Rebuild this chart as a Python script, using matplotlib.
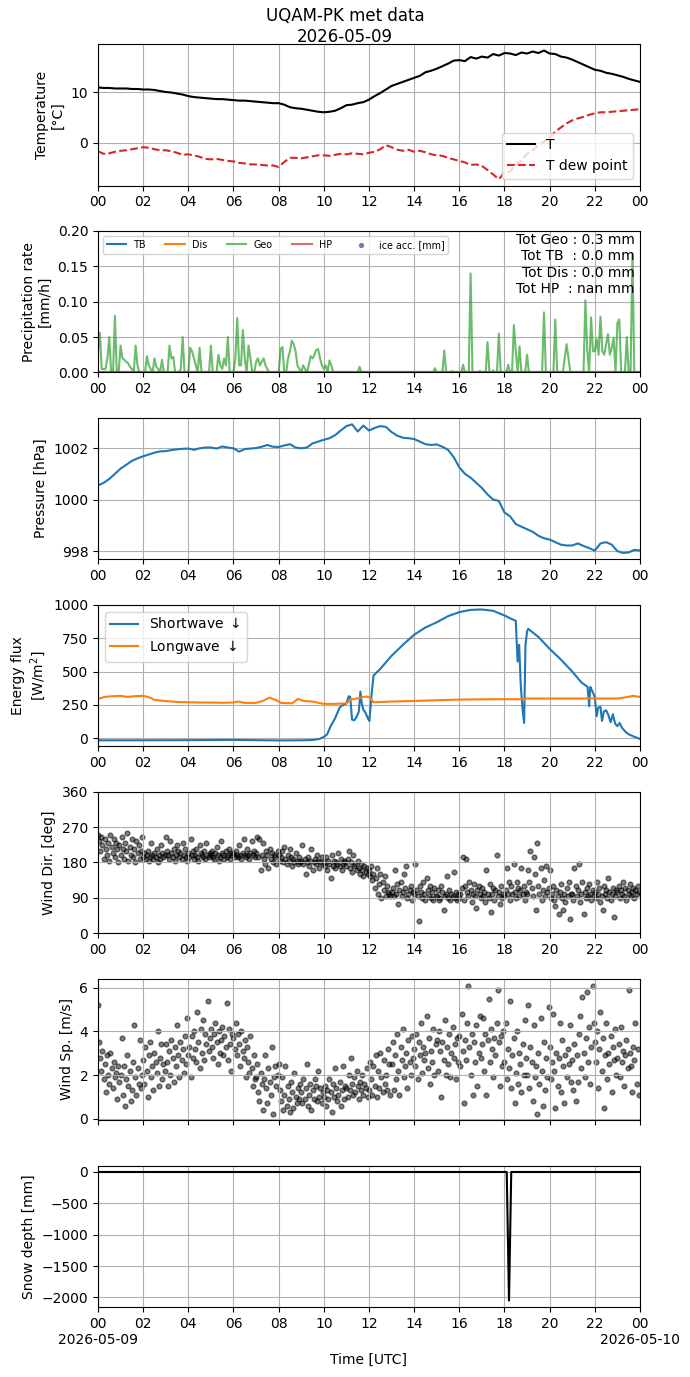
import matplotlib
matplotlib.use("Agg")
import matplotlib.pyplot as plt
from matplotlib.ticker import FixedLocator, FuncFormatter
import numpy as np

# ---- data, hours UTC on 2026-05-09 ----
# 15-min temperature / dew point
temp = [10.9, 10.8, 10.8, 10.7, 10.7, 10.7, 10.6, 10.6, 10.5, 10.5, 10.4, 10.2,
        10.0, 9.9, 9.7, 9.5, 9.2, 9.0, 8.9, 8.8, 8.7, 8.6, 8.6, 8.5,
        8.4, 8.3, 8.3, 8.2, 8.1, 8.0, 7.9, 7.8, 7.8, 7.5, 7.0, 6.8,
        6.7, 6.5, 6.3, 6.1, 6.0, 6.1, 6.3, 6.8, 7.4, 7.5, 7.8, 8.0,
        8.5, 9.2, 9.8, 10.5, 11.2, 11.6, 12.0, 12.4, 12.8, 13.2, 13.9, 14.2,
        14.6, 15.1, 15.6, 16.2, 16.3, 16.1, 16.9, 16.6, 17.0, 16.8, 17.5, 17.2,
        17.7, 17.6, 17.3, 17.8, 17.6, 18.0, 17.7, 18.2, 17.6, 17.5, 17.0, 16.8,
        16.4, 15.9, 15.4, 14.9, 14.4, 14.2, 13.8, 13.6, 13.3, 13.0, 12.6, 12.3, 12.0]
dew = [-1.7, -2.2, -2.1, -1.8, -1.6, -1.5, -1.3, -1.1, -0.9, -1.0, -1.3, -1.5,
       -1.5, -1.7, -2.0, -2.4, -2.3, -2.5, -2.8, -3.2, -3.3, -3.2, -3.4, -3.6,
       -3.7, -4.0, -4.1, -4.3, -4.3, -4.4, -4.5, -4.5, -4.8, -3.8, -3.0, -3.0,
       -3.1, -2.9, -2.7, -2.5, -2.5, -2.6, -2.4, -2.2, -2.3, -2.1, -2.2, -2.3,
       -2.0, -1.8, -1.3, -0.5, -0.9, -1.4, -1.6, -1.4, -1.8, -1.6, -1.9, -2.3,
       -2.5, -2.6, -3.0, -3.3, -3.6, -3.9, -4.4, -4.3, -4.6, -5.4, -6.3, -7.2,
       -5.9, -5.7, -4.3, -3.5, -2.2, -1.5, -0.5, 0.2, 1.0, 2.2, 3.0, 3.8,
       4.4, 4.8, 5.1, 5.5, 5.8, 6.0, 6.0, 6.1, 6.2, 6.3, 6.4, 6.5, 6.6]

# 5-min Geonor precipitation rate [mm/h], one row per hour
geo = [
    0.03, 0.056, 0.005, 0.005, 0.005, 0.02, 0.05, 0.0, 0.0, 0.08, 0.0, 0.0,
    0.038, 0.02, 0.018, 0.015, 0.013, 0.008, 0.005, 0.0, 0.038, 0.01, 0.0, 0.0,
    0.0, 0.0, 0.023, 0.01, 0.005, 0.0, 0.02, 0.008, 0.005, 0.0, 0.018, 0.0,
    0.0, 0.0, 0.038, 0.02, 0.022, 0.0, 0.0, 0.0, 0.005, 0.05, 0.0, 0.0,
    0.0, 0.035, 0.03, 0.02, 0.01, 0.0, 0.035, 0.0, 0.0, 0.0, 0.0, 0.0,
    0.038, 0.0, 0.0, 0.0, 0.025, 0.01, 0.005, 0.02, 0.01, 0.05, 0.0, 0.0,
    0.0, 0.02, 0.077, 0.01, 0.01, 0.06, 0.02, 0.0, 0.038, 0.02, 0.0, 0.0,
    0.015, 0.02, 0.01, 0.015, 0.02, 0.01, 0.005, 0.0, 0.0, 0.0, 0.0, 0.0,
    0.0, 0.033, 0.036, 0.0, 0.0, 0.02, 0.03, 0.045, 0.04, 0.03, 0.01, 0.005,
    0.0, 0.01, 0.005, 0.0, 0.01, 0.023, 0.02, 0.025, 0.032, 0.033, 0.02, 0.01,
    0.005, 0.01, 0.0, 0.017, 0.01, 0.0, 0.0, 0.0, 0.0, 0.0, 0.0, 0.0,
    0.0, 0.0, 0.0, 0.0, 0.0, 0.0, 0.0, 0.008, 0.0, 0.0, 0.0, 0.0,
    0.0, 0.0, 0.0, 0.0, 0.0, 0.0, 0.0, 0.0, 0.0, 0.0, 0.0, 0.0,
    0.0, 0.0, 0.0, 0.0, 0.0, 0.0, 0.0, 0.0, 0.0, 0.0, 0.0, 0.0,
    0.0, 0.0, 0.0, 0.0, 0.0, 0.0, 0.0, 0.0, 0.0, 0.0, 0.0, 0.006,
    0.0, 0.0, 0.0, 0.0, 0.031, 0.0, 0.0, 0.0, 0.002, 0.0, 0.0, 0.0,
    0.0, 0.0, 0.011, 0.0, 0.0, 0.0, 0.14, 0.0, 0.0, 0.0, 0.0, 0.002,
    0.0, 0.0, 0.0, 0.043, 0.0, 0.0, 0.003, 0.0, 0.0, 0.055, 0.0, 0.0,
    0.0, 0.0, 0.011, 0.0, 0.0, 0.067, 0.03, 0.0, 0.037, 0.0, 0.0, 0.0,
    0.025, 0.0, 0.0, 0.0, 0.0, 0.0, 0.0, 0.0, 0.0, 0.085, 0.0, 0.0,
    0.0, 0.0, 0.0, 0.075, 0.0, 0.0, 0.0, 0.0, 0.02, 0.04, 0.02, 0.0,
    0.0, 0.0, 0.0, 0.0, 0.0, 0.0, 0.0, 0.102, 0.03, 0.0, 0.078, 0.03,
    0.03, 0.047, 0.025, 0.079, 0.03, 0.025, 0.04, 0.054, 0.025, 0.035, 0.049, 0.0,
    0.07, 0.075, 0.0, 0.0, 0.0, 0.05, 0.0, 0.0, 0.168, 0.0, 0.0, 0.0,
    0.0]
ice_acc_t = []
ice_acc = []

# 15-min pressure [hPa]
pres = [1000.55, 1000.65, 1000.8, 1001.0, 1001.2, 1001.35, 1001.5, 1001.6,
        1001.68, 1001.75, 1001.82, 1001.87, 1001.88, 1001.92, 1001.95, 1001.97,
        1001.98, 1001.93, 1001.99, 1002.02, 1002.02, 1001.98, 1002.06, 1002.02,
        1001.99, 1001.86, 1001.96, 1001.98, 1002.0, 1002.05, 1002.12, 1002.05,
        1002.04, 1002.1, 1002.15, 1002.02, 1001.99, 1002.02, 1002.18, 1002.25,
        1002.32, 1002.38, 1002.5, 1002.68, 1002.85, 1002.92, 1002.64, 1002.87,
        1002.68, 1002.78, 1002.85, 1002.82, 1002.62, 1002.48, 1002.4, 1002.38,
        1002.35, 1002.25, 1002.15, 1002.12, 1002.14, 1002.05, 1001.93, 1001.65,
        1001.25, 1001.0, 1000.85, 1000.65, 1000.45, 1000.2, 1000.0, 999.95,
        999.5, 999.35, 999.05, 998.95, 998.85, 998.75, 998.6, 998.5,
        998.45, 998.35, 998.25, 998.22, 998.22, 998.3, 998.2, 998.12,
        998.02, 998.3, 998.35, 998.25, 998.0, 997.93, 997.95, 998.05, 998.03]

# radiation [W/m2]
sw_hours = [0, 2, 4, 6, 8, 9, 9.5, 9.8, 10.0, 10.15, 10.3, 10.5, 10.7, 10.85,
            11.0, 11.1, 11.17, 11.25, 11.35, 11.45, 11.55, 11.62, 11.68, 11.75,
            11.85, 11.95, 12.02, 12.1, 12.2, 12.5, 13.0, 13.5, 14.0, 14.5, 15.0,
            15.5, 16.0, 16.5, 17.0, 17.5, 18.0, 18.3, 18.5, 18.58, 18.65, 18.72,
            18.8, 18.87, 18.93, 19.0, 19.05, 19.5, 20.0, 20.5, 21.0, 21.4, 21.68,
            21.75, 21.8, 21.87, 22.0, 22.08, 22.15, 22.25, 22.32, 22.4, 22.5,
            22.6, 22.7, 22.8, 22.9, 23.0, 23.1, 23.2, 23.35, 23.5, 23.7, 23.85, 24.0]
shortwave = [-15, -15, -14, -12, -16, -15, -13, -5, 10, 30, 90, 150, 230, 250,
             260, 315, 310, 140, 135, 160, 200, 350, 260, 215,
             190, 150, 130, 300, 470, 520, 618, 700, 776, 830, 869,
             915, 945, 962, 965, 955, 920, 895, 880, 575, 700, 400,
             220, 115, 700, 800, 820, 760, 670, 590, 500, 420, 385,
             240, 385, 360, 310, 165, 230, 235, 130, 200, 210,
             175, 120, 180, 110, 90, 115, 80, 50, 30, 15, 5, -5]
lw_hours = [0, 0.3, 0.6, 1.0, 1.3, 1.6, 2.0, 2.3, 2.5, 2.8, 3.5, 4.0, 4.5, 5.0,
            5.5, 6.0, 6.2, 6.5, 7.0, 7.3, 7.6, 7.9, 8.1, 8.6, 8.85, 9.1, 9.5,
            10.0, 10.5, 11.0, 11.2, 11.5, 11.8, 12.0, 12.2, 13.0, 14.0, 15.0,
            16.0, 17.0, 18.0, 18.8, 19.0, 20.0, 21.0, 22.0, 23.0, 23.3, 23.7, 24.0]
longwave = [295, 310, 315, 318, 310, 315, 318, 305, 288, 282, 272, 270, 268, 268,
            266, 268, 276, 265, 265, 280, 305, 285, 265, 262, 295, 280, 275,
            258, 258, 262, 290, 300, 312, 310, 270, 275, 280, 285,
            290, 292, 293, 292, 298, 298, 298, 298, 298, 305, 318, 310]

# 3-min wind direction [deg], one row per hour
wdir = [
    250, 235, 210, 245, 225, 190, 240, 215, 200, 230, 185, 250, 220, 205, 240, 195, 230, 215, 180, 225,
    200, 245, 215, 190, 230, 210, 255, 185, 220, 200, 240, 195, 215, 180, 235, 205, 225, 190, 210, 245,
    195, 205, 190, 200, 210, 185, 195, 230, 200, 190, 205, 195, 215, 180, 200, 190, 225, 205, 195, 200,
    245, 210, 200, 190, 235, 205, 195, 215, 185, 200, 225, 210, 195, 205, 190, 230, 200, 215, 195, 185,
    205, 195, 240, 200, 210, 190, 200, 215, 195, 185, 225, 205, 200, 195, 210, 190, 230, 200, 195, 205,
    200, 210, 195, 190, 205, 220, 200, 185, 195, 235, 205, 200, 190, 210, 195, 200, 215, 190, 205, 200,
    205, 195, 210, 200, 195, 225, 200, 190, 205, 240, 200, 195, 215, 200, 190, 205, 235, 200, 210, 195,
    205, 245, 195, 240, 160, 200, 230, 190, 175, 210, 200, 165, 215, 190, 205, 180, 200, 195, 175, 210,
    200, 185, 195, 210, 180, 220, 190, 175, 200, 185, 215, 195, 170, 190, 180, 205, 185, 175, 195, 180,
    185, 225, 175, 190, 150, 180, 195, 170, 185, 215, 160, 180, 190, 175, 200, 185, 165, 180, 195, 175,
    180, 170, 195, 160, 185, 175, 140, 200, 170, 185, 165, 180, 175, 205, 170, 190, 160, 175, 185, 180,
    170, 190, 210, 165, 180, 155, 200, 170, 175, 160, 185, 165, 150, 175, 160, 145, 170, 155, 165, 150,
    160, 145, 170, 135, 150, 115, 140, 165, 100, 125, 150, 90, 130, 110, 145, 95, 120, 105, 100, 95,
    105, 115, 95, 160, 100, 125, 75, 110, 130, 95, 105, 150, 115, 170, 90, 100, 110, 120, 85, 105,
    100, 175, 110, 95, 30, 120, 105, 90, 130, 100, 85, 140, 110, 95, 120, 90, 105, 85, 115, 95,
    95, 110, 85, 90, 120, 105, 60, 95, 100, 145, 90, 110, 85, 100, 95, 155, 90, 105, 85, 100,
    90, 100, 115, 195, 85, 120, 190, 105, 95, 130, 110, 80, 100, 125, 95, 65, 110, 120, 100, 90,
    115, 95, 105, 80, 160, 100, 90, 125, 55, 100, 115, 85, 110, 200, 95, 105, 75, 120, 90, 100,
    95, 110, 165, 100, 130, 85, 120, 100, 175, 105, 90, 130, 115, 95, 110, 165, 100, 120, 85, 105,
    100, 160, 130, 210, 115, 95, 195, 150, 60, 230, 120, 100, 165, 85, 110, 135, 95, 170, 105, 115,
    160, 90, 100, 120, 85, 70, 110, 95, 50, 105, 125, 90, 60, 100, 80, 115, 95, 130, 35, 100,
    100, 85, 165, 120, 95, 110, 175, 80, 100, 130, 50, 105, 90, 115, 95, 125, 100, 85, 110, 95,
    105, 90, 130, 100, 115, 80, 95, 60, 120, 100, 110, 90, 140, 105, 85, 100, 115, 40, 95, 110,
    105, 120, 90, 110, 100, 130, 95, 115, 85, 110, 100, 125, 95, 105, 115, 90, 110, 100, 120, 105]

# 3-min wind speed [m/s], one row per hour
wspd = [
    5.2, 3.5, 2.8, 2.2, 3.1, 1.8, 2.5, 1.2, 2.9, 2.0, 1.6, 3.0, 2.3, 1.4, 2.6, 1.9, 2.1, 0.9, 2.4, 1.7,
    2.0, 3.7, 1.1, 2.4, 0.6, 1.8, 2.9, 1.5, 2.2, 0.8, 1.3, 2.6, 4.3, 1.9, 1.1, 2.3, 1.6, 3.6, 1.4, 2.0,
    2.7, 1.6, 3.3, 2.2, 1.0, 2.9, 3.5, 1.9, 2.4, 1.3, 3.0, 2.6, 2.1, 4.0, 1.5, 2.8, 3.4, 1.8, 2.5, 2.2,
    3.4, 2.6, 1.5, 3.1, 2.0, 3.6, 2.8, 1.7, 3.3, 2.4, 4.3, 2.9, 1.9, 3.5, 2.7, 3.2, 2.1, 3.8, 2.5, 4.6,
    2.9, 3.3, 1.9, 3.8, 2.8, 4.0, 3.2, 2.6, 4.9, 3.5, 2.3, 4.1, 3.0, 4.5, 2.7, 3.9, 3.4, 5.4, 3.1, 3.7,
    4.1, 3.3, 2.8, 3.9, 4.4, 3.5, 2.5, 4.0, 3.0, 3.6, 4.2, 2.9, 3.8, 3.3, 5.3, 2.7, 4.1, 3.4, 2.2, 3.9,
    3.7, 3.2, 4.4, 2.9, 3.9, 3.4, 2.4, 4.0, 3.1, 2.8, 3.6, 1.9, 3.3, 2.6, 2.1, 3.8, 2.3, 1.5, 2.9, 1.8,
    1.9, 2.5, 1.2, 0.8, 2.1, 1.6, 0.4, 1.8, 2.9, 1.4, 0.7, 2.3, 1.7, 1.1, 3.3, 0.2, 1.9, 2.4, 1.5, 2.0,
    2.5, 1.3, 0.8, 1.9, 0.4, 1.1, 2.4, 0.6, 1.5, 0.9, 0.3, 1.7, 1.2, 0.5, 2.1, 1.0, 0.7, 1.4, 0.9, 1.6,
    1.2, 0.7, 1.8, 0.9, 1.4, 2.5, 0.6, 1.1, 1.6, 0.4, 1.3, 0.9, 1.8, 1.5, 0.8, 2.2, 1.0, 1.4, 0.7, 1.2,
    1.0, 1.5, 0.6, 1.3, 0.9, 1.8, 1.2, 0.3, 1.6, 1.0, 2.3, 1.4, 0.8, 1.1, 1.7, 0.6, 1.3, 2.4, 0.9, 1.5,
    1.4, 1.0, 2.0, 1.3, 2.8, 1.6, 1.1, 1.9, 1.2, 2.2, 1.5, 0.9, 1.7, 1.3, 2.0, 1.1, 1.6, 1.4, 2.3, 1.0,
    1.3, 2.6, 1.8, 1.1, 2.4, 1.5, 2.9, 1.0, 2.2, 1.4, 3.0, 1.9, 1.2, 2.7, 1.6, 2.0, 1.3, 3.2, 2.5, 1.1,
    2.5, 3.5, 1.3, 2.9, 1.8, 3.9, 2.2, 1.1, 3.3, 2.7, 4.1, 1.9, 2.4, 3.0, 1.4, 3.6, 2.6, 2.0, 3.8, 2.8,
    3.2, 2.4, 3.9, 1.8, 3.5, 2.9, 4.4, 2.1, 3.3, 2.7, 3.0, 4.7, 2.3, 3.7, 1.6, 3.1, 2.6, 4.1, 2.0, 3.4,
    3.6, 2.2, 4.0, 3.1, 1.0, 3.5, 2.7, 4.5, 2.0, 3.3, 2.5, 3.9, 1.9, 3.0, 4.2, 2.8, 3.4, 1.8, 3.7, 2.6,
    3.8, 2.4, 4.8, 3.1, 0.7, 3.6, 2.7, 4.4, 6.1, 3.3, 2.0, 3.9, 1.1, 3.5, 2.6, 4.3, 1.5, 3.0, 4.7, 2.8,
    3.4, 4.6, 2.2, 3.9, 1.1, 3.6, 5.5, 2.6, 4.1, 3.2, 1.9, 3.7, 2.9, 4.4, 5.9, 3.5, 1.5, 3.8, 2.4, 4.0,
    2.6, 4.4, 1.8, 3.2, 2.3, 5.4, 1.4, 2.9, 3.7, 0.7, 2.1, 4.0, 1.6, 3.0, 2.5, 1.2, 3.4, 2.0, 4.5, 2.8,
    2.0, 5.2, 1.4, 3.3, 2.6, 0.8, 4.3, 1.9, 2.4, 0.2, 3.0, 1.6, 4.6, 2.2, 0.6, 3.5, 1.3, 2.8, 1.9, 5.1,
    3.3, 1.8, 2.6, 4.8, 2.2, 0.5, 3.0, 1.5, 2.8, 4.4, 1.2, 3.6, 2.4, 0.7, 2.9, 1.9, 3.2, 2.5, 4.3, 1.7,
    2.7, 1.3, 3.4, 0.8, 2.9, 1.7, 3.9, 4.7, 2.3, 5.6, 3.0, 1.9, 3.7, 5.8, 2.6, 4.2, 1.6, 3.3, 6.1, 4.4,
    3.5, 2.6, 4.0, 1.4, 3.2, 4.9, 2.2, 3.7, 0.5, 2.9, 4.4, 1.8, 3.0, 2.5, 3.8, 1.2, 3.3, 2.7, 4.1, 2.0,
    2.8, 3.4, 1.9, 4.2, 2.6, 3.1, 1.5, 2.9, 3.6, 2.3, 5.9, 3.0, 2.4, 1.2, 3.3, 2.7, 4.4, 1.6, 3.2, 1.1]

# snow depth [mm]
snow_hours = [0, 18.1, 18.2, 18.3, 24]
snow_depth = [0, 0, -2050, 0, 0]

tot_text = "Tot Geo : 0.3 mm\nTot TB  : 0.0 mm\nTot Dis : 0.0 mm\nTot HP  : nan mm"

# time axes
t15 = np.arange(len(temp)) * 0.25
t5 = np.arange(len(geo)) / 12.0
tw = np.arange(len(wdir)) / 20.0
zeros5 = np.zeros(len(geo))

fig, axes = plt.subplots(7, 1, figsize=(6.9, 13.77), dpi=100)
fig.subplots_adjust(left=0.142, right=0.9275, top=0.968, bottom=0.0508, hspace=0.321)
fig.suptitle("UQAM-PK met data\n2026-05-09", fontsize=12, y=0.995)

ax = axes[0]
ax.plot(t15, temp, color="k", label="T")
ax.plot(t15, dew, color="tab:red", ls="--", label="T dew point")
ax.set_ylabel("Temperature\n[°C]")
ax.legend(loc="lower right")

ax = axes[1]
ax.plot(t5, zeros5, color="tab:blue", label="TB")
ax.plot(t5, zeros5, color="tab:orange", label="Dis")
ax.plot(t5, geo, color="tab:green", alpha=0.7, label="Geo")
ax.plot(t5, zeros5, color="tab:red", alpha=0.7, label="HP")
ax.scatter(ice_acc_t, ice_acc, color="tab:purple", s=8, label="ice acc. [mm]")
ax.set_ylim(0, 0.2)
ax.set_ylabel("Precipitation rate\n[mm/h]")
ax.legend(loc="upper left", ncol=5, fontsize="x-small")
ax.text(0.99, 0.985, tot_text, transform=ax.transAxes, ha="right", va="top",
        multialignment="right")

ax = axes[2]
ax.plot(t15, pres, color="tab:blue")
ax.set_ylabel("Pressure [hPa]")

ax = axes[3]
ax.plot(sw_hours, shortwave, color="tab:blue", label="Shortwave $\\downarrow$")
ax.plot(lw_hours, longwave, color="tab:orange", label="Longwave $\\downarrow$")
ax.set_ylim(-60, 1000)
ax.set_yticks([0, 250, 500, 750, 1000])
ax.set_ylabel("Energy flux\n[W/m$^2$]")
ax.legend(loc="upper left")

ax = axes[4]
ax.scatter(tw, wdir, color="k", alpha=0.5, s=12)
ax.set_ylim(0, 360)
ax.set_yticks([0, 90, 180, 270, 360])
ax.set_ylabel("Wind Dir. [deg]")

ax = axes[5]
ax.scatter(tw, wspd, color="k", alpha=0.5, s=12)
ax.set_ylim(-0.07, 6.42)
ax.set_yticks([0, 2, 4, 6])
ax.set_ylabel("Wind Sp. [m/s]")

ax = axes[6]
ax.plot(snow_hours, snow_depth, color="k")
ax.set_ylabel("Snow depth [mm]")
ax.set_xlabel("Time [UTC]")


def hour_fmt(x, pos):
    return "%02d" % (int(round(x)) % 24)


def hour_date_fmt(x, pos):
    h = int(round(x))
    if h == 0:
        return "00\n2026-05-09"
    if h == 24:
        return "00\n2026-05-10"
    return "%02d" % h


for i, ax in enumerate(axes):
    ax.set_xlim(0, 24)
    ax.xaxis.set_major_locator(FixedLocator(range(0, 25, 2)))
    ax.grid(True)
    if i == 6:
        ax.xaxis.set_major_formatter(FuncFormatter(hour_date_fmt))
    else:
        ax.xaxis.set_major_formatter(FuncFormatter(hour_fmt))
axes[5].tick_params(labelbottom=False)

fig.savefig("out.png", dpi=100)
